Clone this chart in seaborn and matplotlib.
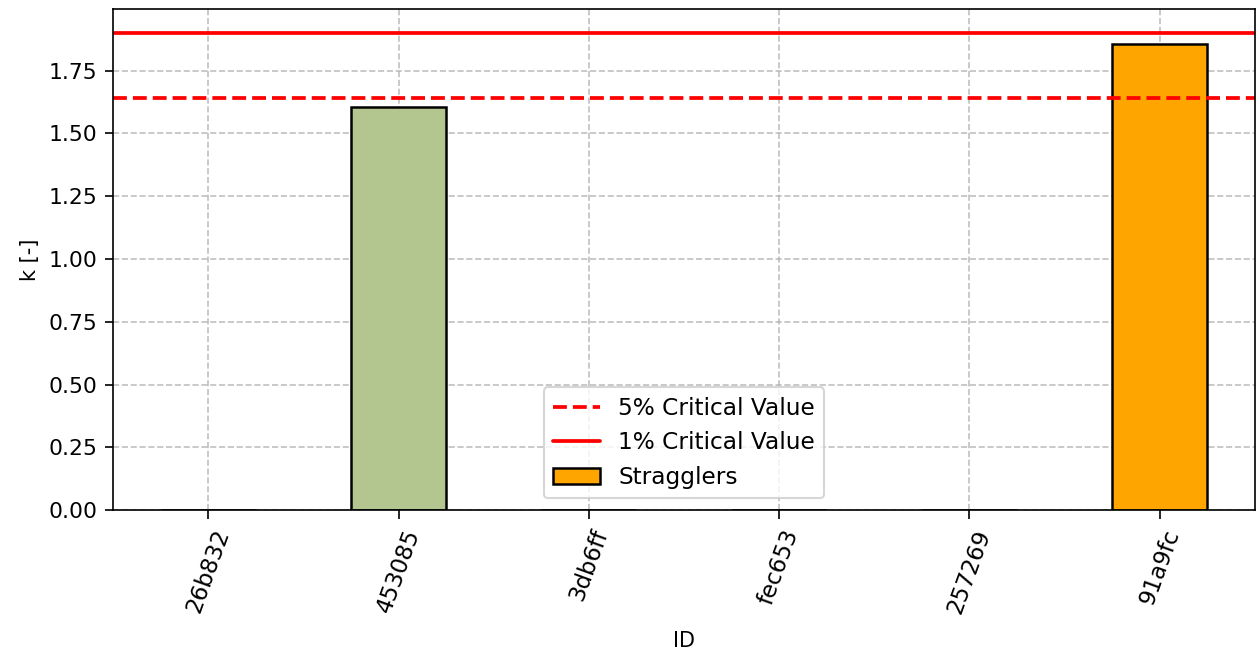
import matplotlib
matplotlib.use("Agg")
import matplotlib.pyplot as plt
import seaborn as sns
from matplotlib.patches import Patch

# data
ids = ["26b832", "453085", "3db6ff", "fec653", "257269", "91a9fc"]
k_values = [0.0, 1.605, 0.0, 0.0, 0.0, 1.855]
is_straggler = [False, False, False, False, False, True]
crit_5 = 1.64
crit_1 = 1.90

normal_color = "#b4c690"
straggler_color = "orange"

sns.set_style("ticks", rc={
    "text.color": "black",
    "axes.labelcolor": "black",
    "xtick.color": "black",
    "ytick.color": "black",
    "axes.edgecolor": "black",
})
plt.rcParams["font.family"] = ["DejaVu Sans"]

fig, ax = plt.subplots(figsize=(8.38, 4.36), dpi=150)
fig.subplots_adjust(left=0.0899, right=0.9984, top=0.986, bottom=0.22)

colors = [straggler_color if s else normal_color for s in is_straggler]
sns.barplot(
    x=ids,
    y=k_values,
    hue=ids,
    palette=colors,
    width=0.5,
    edgecolor="black",
    linewidth=1.2,
    saturation=1,
    legend=False,
    ax=ax,
)

ax.axhline(crit_5, color="red", linestyle="--", linewidth=1.8, label="5% Critical Value")
ax.axhline(crit_1, color="red", linestyle="-", linewidth=1.8, label="1% Critical Value")

ax.set_ylim(0, crit_1 * 1.05)
ax.set_xlim(-0.5, len(ids) - 0.5)
ax.set_xlabel("ID", fontsize=10, labelpad=7)
ax.set_ylabel("k [-]", fontsize=10)
ax.tick_params(axis="x", labelsize=11, length=4.2, width=0.8)
ax.tick_params(axis="y", labelsize=10.5, length=4.0, width=0.8)
plt.setp(ax.get_xticklabels(), rotation=70)
for sp in ax.spines.values():
    sp.set_visible(True)
    sp.set_linewidth(0.8)

ax.set_axisbelow(True)
ax.grid(True, linestyle="--", color="#b0b0b0", linewidth=0.8, alpha=0.8)

handles, labels = ax.get_legend_handles_labels()
handles.append(Patch(facecolor=straggler_color, edgecolor="black", linewidth=1.2))
labels.append("Stragglers")
ax.legend(handles, labels, loc="lower center", fontsize=11.2, framealpha=0.8)

fig.savefig("out.png", dpi=150)
